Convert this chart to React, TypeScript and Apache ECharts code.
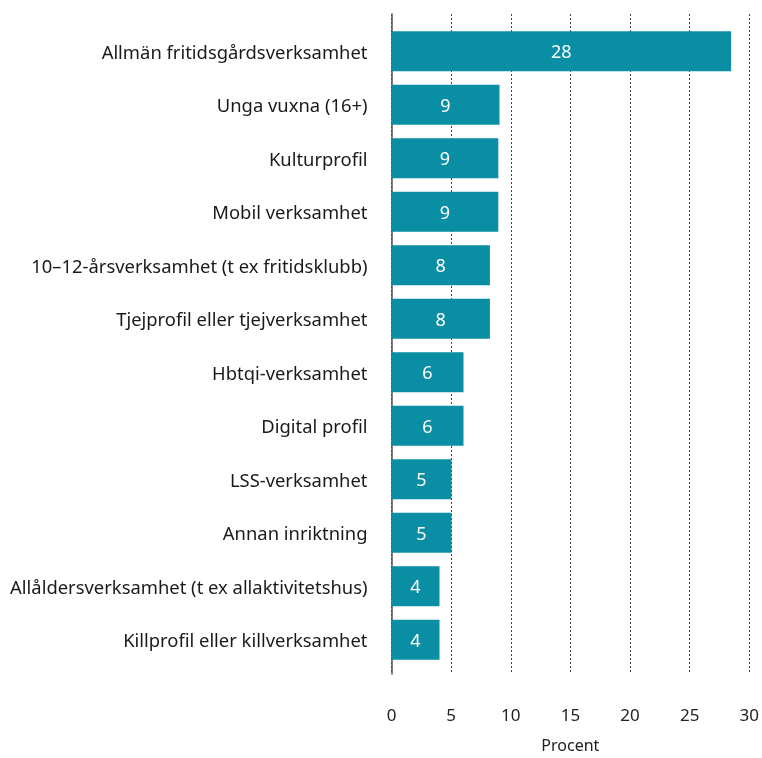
import React, { useEffect, useRef } from "react";
import * as echarts from "echarts";

const categories = [
  "Allmän fritidsgårdsverksamhet",
  "Unga vuxna (16+)",
  "Kulturprofil",
  "Mobil verksamhet",
  "10–12-årsverksamhet (t ex fritidsklubb)",
  "Tjejprofil eller tjejverksamhet",
  "Hbtqi-verksamhet",
  "Digital profil",
  "LSS-verksamhet",
  "Annan inriktning",
  "Allåldersverksamhet (t ex allaktivitetshus)",
  "Killprofil eller killverksamhet",
];
const values = [28.3, 9.0, 8.9, 8.9, 8.2, 8.2, 6.0, 6.0, 5.0, 5.0, 4.0, 4.0];
const xAxisName = "Procent";

const FONT = "'Noto Sans', 'Open Sans', sans-serif";

export default function App() {
  const ref = useRef<HTMLDivElement>(null);
  useEffect(() => {
    if (!ref.current) return;
    const chart = echarts.init(ref.current, null, { renderer: "svg" });
    chart.setOption({
      animation: false,
      textStyle: { fontFamily: FONT },
      grid: [
        { left: 391.5, right: 10.5, top: 24.5, height: 642, containLabel: false },
        { left: 391.5, right: 10.5, top: 14, height: 665, containLabel: false },
      ],
      xAxis: [
        { type: "value", gridIndex: 0, min: 0, max: 30, interval: 5, show: false },
        {
          type: "value",
          gridIndex: 1,
          min: 0,
          max: 30,
          interval: 5,
          name: xAxisName,
          nameLocation: "middle",
          nameGap: 63,
          nameTextStyle: { fontSize: 16, color: "#222", fontFamily: FONT },
          axisLine: { show: false },
          axisTick: { show: false },
          axisLabel: { fontSize: 17, color: "#222", margin: 32, fontFamily: FONT },
          splitLine: { show: true, lineStyle: { type: [2, 2], color: "#444", width: 1 } },
        },
      ],
      yAxis: [
        {
          type: "category",
          gridIndex: 0,
          data: categories,
          inverse: true,
          axisLine: { show: false },
          axisTick: { show: false },
          axisLabel: { fontSize: 18.4, color: "#1a1a1a", margin: 24, fontFamily: FONT },
          splitLine: { show: false },
        },
        {
          type: "value",
          gridIndex: 1,
          min: 0,
          max: 1,
          axisLine: { show: true, lineStyle: { color: "#555", width: 1.5 } },
          axisTick: { show: false },
          axisLabel: { show: false },
          splitLine: { show: false },
        },
      ],
      series: [
        {
          type: "bar",
          xAxisIndex: 0,
          yAxisIndex: 0,
          data: values,
          barWidth: 40,
          itemStyle: { color: "#0a8ea4" },
          label: {
            show: true,
            position: "inside",
            color: "#fff",
            fontSize: 18,
            fontFamily: FONT,
            formatter: (p: any) => String(Math.round(p.value)),
          },
        },
      ],
    });
    return () => chart.dispose();
  }, []);
  return (
    <div
      ref={ref}
      style={{ position: "fixed", left: 0, top: 0, width: 762, height: 758 }}
    />
  );
}
